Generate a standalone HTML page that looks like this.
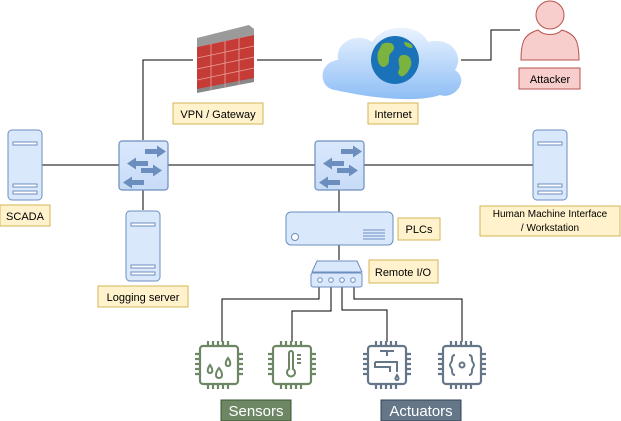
<!DOCTYPE html>
<html><head><meta charset="utf-8"><style>
body{margin:0;background:#fff}
svg{display:block}
text{font-family:"Liberation Sans",sans-serif}
</style></head><body>
<svg width="621" height="421" viewBox="0 0 621 421" xmlns="http://www.w3.org/2000/svg">
<defs>
<linearGradient id="cl" x1="0" y1="0" x2="0" y2="1"><stop offset="0" stop-color="#eaf3ff"/><stop offset="1" stop-color="#8ebef5"/></linearGradient>
<linearGradient id="sw" x1="0" y1="0" x2="0" y2="1"><stop offset="0" stop-color="#dae8fc"/><stop offset="1" stop-color="#c7dbf7"/></linearGradient>
<g id="srv"><rect x="0" y="0" width="34" height="70" rx="4" fill="#dae8fc" stroke="#6c8ebf"/><rect x="5" y="12" width="24" height="3" fill="#fff" stroke="#6c8ebf"/><rect x="5" y="54" width="24" height="3" fill="#fff" stroke="#6c8ebf"/><rect x="5" y="61" width="24" height="3" fill="#fff" stroke="#6c8ebf"/></g>
<g id="swi"><rect x="0" y="0" width="49" height="49" rx="3" fill="url(#sw)" stroke="#6c8ebf" stroke-width="1.2"/>
<g fill="#6c8ebf"><path d="M26 8h12v-3.5l9 6-9 6v-3.5h-12z"/><path d="M29 20h-12v-3.5l-9 6 9 6v-3.5h12z"/><path d="M22 27h12v-3.5l9 6-9 6v-3.5h-12z"/><path d="M25 39h-12v-3.5l-9 6 9 6v-3.5h12z"/></g></g>
<g id="chip" fill="none" stroke-width="2.2">
<rect x="-19" y="-19" width="38" height="38" rx="3"/>
<path d="M-11 -19v-5M-6 -19v-5M-1 -19v-5M4 -19v-5M9 -19v-5M-11 19v5M-6 19v5M-1 19v5M4 19v5M9 19v5M-19 -11h-5M-19 -6h-5M-19 -1h-5M-19 4h-5M-19 9h-5M19 -11h5M19 -6h5M19 -1h5M19 4h5M19 9h5"/>
</g>
</defs>
<g stroke="#000" stroke-width="1" fill="none">
<path d="M143 140V60H193M257 60H322"/>
<path d="M461 60H491V30H520"/>
<path d="M42 165H533"/>
<path d="M143 190V210M339 190V212M339 245V260"/>
<path d="M319 287V299H222V342M331 287V311H292V342M342 287V310H387V342M354 287V299H462V342"/>
</g>
<!-- firewall -->
<path d="M197 38L249 25L254 29V35L197 47Z" fill="#9a9a9a"/>
<path d="M197 47L254 35V81L197 92Z" fill="#c53b36"/>
<path d="M197 89L254 78V82L197 93Z" fill="#888"/>
<g stroke="#e8a19b" stroke-width="0.8"><path d="M197 58L254 46M197 69L254 57M197 80L254 68"/><path d="M211 44V90M225 41V88M239 38V85"/></g>
<rect x="173" y="103" width="90" height="21" fill="#fff2cc" stroke="#d6b656"/>
<text x="218" y="118" font-size="11" text-anchor="middle">VPN / Gateway</text>
<!-- cloud -->
<path d="M335 90C318 88 318 62 338 60C335 40 360 32 372 42C385 22 420 24 428 42C450 36 465 55 455 70C470 80 455 100 440 95C420 102 380 100 335 90Z" fill="url(#cl)"/>
<circle cx="395" cy="60" r="24" fill="#1a73b8"/>
<path d="M382 44C390 40 398 45 392 52C386 56 392 62 386 66C380 70 376 60 378 52Z M400 56C408 52 414 60 410 68C406 76 400 80 398 72C402 66 396 62 400 56Z M404 42C410 42 414 46 412 48C408 48 404 46 404 42Z" fill="#7bb33f"/>
<rect x="368" y="103" width="50" height="21" fill="#fff2cc" stroke="#d6b656"/>
<text x="393" y="118" font-size="11" text-anchor="middle">Internet</text>
<!-- attacker -->
<circle cx="550" cy="15" r="14" fill="#f8cecc" stroke="#b85450"/>
<path d="M521 60C521 40 525 34 538 30C544 36 556 36 562 30C575 34 579 40 579 60Z" fill="#f8cecc" stroke="#b85450"/>
<rect x="519" y="68" width="61" height="21" fill="#f8cecc" stroke="#b85450"/>
<text x="550" y="83" font-size="11" text-anchor="middle">Attacker</text>
<!-- switches -->
<use href="#swi" x="119" y="141"/>
<use href="#swi" x="315" y="141"/>
<!-- servers -->
<use href="#srv" x="8" y="130"/>
<rect x="0" y="205" width="50" height="21" fill="#fff2cc" stroke="#d6b656"/>
<text x="25" y="220" font-size="11" text-anchor="middle">SCADA</text>
<use href="#srv" x="126" y="211"/>
<rect x="98" y="286" width="90" height="21" fill="#fff2cc" stroke="#d6b656"/>
<text x="143" y="301" font-size="11" text-anchor="middle">Logging server</text>
<use href="#srv" x="533" y="130"/>
<rect x="480" y="206" width="140" height="30" fill="#fff2cc" stroke="#d6b656"/>
<text x="550" y="217" font-size="10" text-anchor="middle">Human Machine Interface</text>
<text x="550" y="231" font-size="10" text-anchor="middle">/ Workstation</text>
<!-- PLC -->
<rect x="286" y="212" width="107" height="33" rx="5" fill="#dae8fc" stroke="#6c8ebf"/>
<circle cx="295" cy="237" r="3.5" fill="#fff" stroke="#6c8ebf"/>
<g stroke="#6c8ebf"><path d="M363 230h22M363 233h22M363 236h22M363 239h22"/></g>
<rect x="398" y="218" width="42" height="22" fill="#fff2cc" stroke="#d6b656"/>
<text x="419" y="233" font-size="11" text-anchor="middle">PLCs</text>
<!-- remote IO -->
<path d="M312 272L317 261H357L362 272Z" fill="#dae8fc" stroke="#6c8ebf"/>
<rect x="311" y="273" width="51" height="14" rx="2" fill="#dae8fc" stroke="#6c8ebf"/>
<g fill="#fff" stroke="#6c8ebf"><circle cx="320" cy="280" r="2.3"/><circle cx="331" cy="280" r="2.3"/><circle cx="342" cy="280" r="2.3"/><circle cx="353" cy="280" r="2.3"/></g>
<rect x="369" y="260" width="69" height="23" fill="#fff2cc" stroke="#d6b656"/>
<text x="403" y="276" font-size="11" text-anchor="middle">Remote I/O</text>
<!-- chips -->
<g stroke="#6d8764"><use href="#chip" x="219" y="365"/><use href="#chip" x="292" y="365"/></g>
<g stroke="#647687"><use href="#chip" x="387" y="365"/><use href="#chip" x="462" y="365"/></g>
<g fill="none" stroke="#6d8764" stroke-width="2">
<path d="M210 365c-3 4-3 8 0 8 3 0 3-4 0-8zM228 358c-3 4-3 8 0 8 3 0 3-4 0-8zM219 368c-4 5-4 10 0 10 4 0 4-5 0-10z"/>
<path d="M289 353v16a4 4 0 1 0 4 0v-16a2 2 0 0 0-4 0zM297 355h4M297 359h4M297 363h4"/>
</g>
<g fill="none" stroke="#647687" stroke-width="2">
<path d="M380 351h14M387 351v5M375 362h22v10M375 362v5h15v5M397 375c-2 3-2 5 0 5 2 0 2-2 0-5z"/>
<path d="M455 355c-3 0-3 3-3 5s-2 3-2 5c0 2 2 3 2 5s0 5 3 5M469 355c3 0 3 3 3 5s2 3 2 5c0 2-2 3-2 5s0 5-3 5"/>
<circle cx="462" cy="365" r="2.5"/>
</g>
<rect x="221" y="400" width="70" height="21" fill="#6d8764" stroke="#3a5431"/>
<text x="256" y="416" font-size="15" fill="#fff" text-anchor="middle">Sensors</text>
<rect x="381" y="400" width="80" height="21" fill="#647687" stroke="#314354"/>
<text x="421" y="416" font-size="15" fill="#fff" text-anchor="middle">Actuators</text>
</svg>
</body></html>
